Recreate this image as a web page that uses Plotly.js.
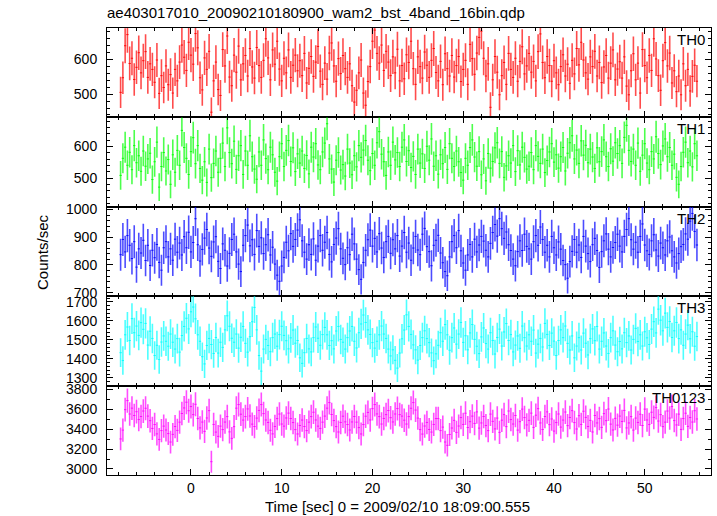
<!DOCTYPE html>
<html>
<head>
<meta charset="utf-8">
<script src="https://cdn.plot.ly/plotly-3.0.1.min.js"></script>
<style>html,body{margin:0;padding:0;background:#fff;}#chart{width:717px;height:516px;}</style>
</head>
<body>
<div id="chart"></div>
<script>
// Time grid: bin centres (sec), 0.25 s bins
const timeStart = -7.75;
const binWidth = 0.25;

const panelNames = ["TH0", "TH1", "TH2", "TH3", "TH0123"];

const th0 = [
505,547,639,671,588,603,542,577,619,561,596,622,548,587,571,534,598,502,553,519,
581,527,556,503,571,538,592,641,606,568,649,612,586,674,633,547,512,604,571,623,
448,538,592,513,496,628,581,667,549,524,612,563,638,541,587,611,552,631,578,546,
634,582,548,597,659,604,541,627,586,652,572,538,603,561,627,548,583,612,567,596,
553,617,532,574,608,551,592,637,566,528,589,543,618,647,581,537,602,559,611,573,
548,587,524,477,511,561,598,503,468,536,579,652,684,617,589,641,568,623,592,553,
607,561,629,538,582,544,613,591,652,573,528,607,579,546,621,583,548,597,631,562,
538,594,527,616,573,552,611,549,582,608,536,571,597,528,643,602,557,618,663,681,
603,552,587,462,541,608,563,498,553,591,528,617,571,548,603,537,594,636,558,581,
617,563,594,538,622,673,591,547,608,582,537,596,561,527,579,613,552,586,531,597,
558,631,584,649,598,561,543,607,579,623,552,591,533,578,611,546,589,627,541,572,
593,546,607,523,498,567,616,541,589,503,628,582,547,611,568,659,601,553,511,596,
648,581,618,532,567,507,552,498,587,524,571,509,551,583,537];

const th1 = [
509,563,598,541,582,527,603,549,571,522,586,538,561,579,496,552,614,472,537,581,
523,559,481,574,519,588,541,651,597,563,512,584,628,546,603,531,494,552,487,592,
502,547,586,519,563,611,537,659,581,546,617,528,571,603,512,586,541,634,568,529,
497,583,541,621,562,527,598,574,519,491,568,609,537,588,619,553,596,521,577,548,
586,531,572,514,598,567,609,542,527,583,611,672,561,529,488,557,581,526,543,507,
592,548,511,571,536,603,566,589,619,557,524,578,541,612,647,576,552,509,583,541,
614,558,581,537,598,621,553,587,534,569,512,592,548,577,531,601,557,624,538,571,
513,574,546,597,528,609,563,537,586,552,518,494,563,541,597,621,567,538,584,511,
561,492,578,532,553,596,612,547,584,503,539,571,548,603,521,587,542,598,566,529,
538,581,527,603,569,547,592,518,556,583,609,551,574,532,568,597,523,579,612,634,
561,589,547,618,573,604,549,592,567,531,596,552,584,621,568,537,593,554,612,578,
603,547,629,667,588,553,592,541,611,522,573,609,548,527,584,561,631,578,543,602,
624,568,597,541,576,503,481,537,582,614,549,586,536,609,571];

const th2 = [
837,892,847,906,871,823,884,792,858,843,889,816,871,798,853,826,874,809,781,862,
884,829,858,817,893,846,879,836,902,862,918,847,881,967,873,814,856,897,928,861,
831,883,902,813,787,876,853,796,842,892,911,847,803,776,871,906,944,869,891,838,
924,867,898,841,873,909,836,864,803,763,741,796,827,882,851,913,867,892,926,963,
887,846,821,873,838,894,817,868,906,853,882,917,838,811,874,897,931,858,824,801,
862,837,911,876,821,783,748,809,853,891,926,868,896,847,913,861,827,884,903,842,
891,858,906,832,868,917,846,879,817,861,903,854,837,911,932,866,848,797,871,889,
907,843,808,776,761,829,884,906,862,924,851,807,781,836,874,829,893,847,872,903,
886,853,829,878,917,946,904,967,931,896,919,873,852,821,797,848,887,852,911,867,
858,821,884,906,871,937,892,846,871,829,903,862,836,883,857,816,801,752,812,849,
892,846,872,827,903,868,841,812,873,896,852,791,848,887,912,857,829,863,881,911,
868,847,903,928,967,891,857,882,846,903,948,872,851,838,887,909,854,832,879,862,
836,887,901,851,829,807,841,866,874,912,893,958,986,921,872];

const th3 = [
1433,1392,1527,1568,1497,1612,1538,1573,1524,1591,1556,1587,1473,1546,1508,1418,1472,1397,1489,1521,
1493,1467,1531,1488,1452,1507,1436,1523,1571,1614,1558,1648,1673,1611,1527,1493,1412,1374,1471,1508,
1476,1429,1513,1431,1488,1461,1553,1627,1572,1509,1488,1531,1457,1514,1571,1482,1436,1517,1596,1671,
1553,1418,1336,1452,1503,1471,1438,1512,1531,1467,1528,1572,1524,1496,1453,1511,1552,1483,1497,1406,
1377,1433,1508,1453,1437,1512,1568,1509,1472,1528,1566,1527,1471,1496,1453,1547,1571,1503,1488,1452,
1512,1547,1571,1493,1458,1538,1584,1631,1592,1553,1529,1486,1457,1493,1527,1573,1531,1508,1452,1416,
1448,1393,1352,1431,1506,1552,1632,1571,1529,1474,1448,1394,1471,1512,1548,1507,1486,1432,1391,1427,
1472,1538,1493,1581,1527,1446,1512,1563,1478,1531,1592,1487,1522,1448,1537,1581,1503,1467,1428,1516,
1563,1481,1452,1538,1497,1426,1513,1557,1468,1542,1586,1497,1528,1437,1473,1521,1456,1573,1512,1468,
1527,1493,1552,1431,1478,1508,1463,1587,1529,1471,1536,1494,1418,1497,1553,1512,1573,1482,1447,1521,
1406,1468,1512,1447,1536,1483,1421,1507,1558,1496,1571,1452,1493,1537,1468,1429,1512,1548,1473,1438,
1492,1453,1538,1486,1521,1447,1503,1561,1492,1527,1468,1543,1511,1476,1557,1596,1537,1662,1604,1548,
1641,1566,1597,1513,1548,1592,1507,1553,1472,1531,1578,1506,1543,1467,1518];

const th0123 = [
3302,3391,3597,3688,3553,3612,3538,3576,3497,3528,3583,3611,3532,3486,3408,3447,3353,3297,3386,3431,
3392,3356,3271,3348,3427,3388,3471,3558,3614,3672,3586,3628,3547,3651,3508,3413,3472,3378,3513,3587,
3073,3448,3371,3328,3431,3396,3472,3527,3373,3308,3426,3612,3648,3551,3492,3527,3604,3533,3451,3427,
3512,3589,3648,3557,3493,3468,3389,3353,3428,3507,3553,3452,3431,3513,3562,3508,3467,3396,3352,3437,
3492,3427,3386,3471,3527,3571,3493,3431,3408,3471,3532,3612,3668,3548,3487,3426,3372,3468,3531,3474,
3447,3392,3473,3528,3471,3416,3352,3447,3531,3569,3493,3607,3648,3554,3527,3452,3508,3547,3588,3516,
3473,3553,3608,3547,3532,3491,3452,3527,3611,3668,3593,3512,3396,3351,3432,3468,3397,3371,3448,3507,
3507,3386,3421,3271,3238,3347,3412,3489,3368,3432,3517,3448,3561,3417,3476,3532,3458,3574,3411,3463,
3528,3437,3386,3552,3479,3403,3512,3368,3491,3547,3426,3583,3497,3452,3538,3391,3476,3602,3517,3443,
3489,3562,3418,3541,3607,3463,3397,3528,3574,3446,3503,3381,3467,3553,3421,3492,3573,3436,3518,3587,
3467,3402,3536,3448,3581,3519,3427,3489,3372,3538,3463,3507,3418,3557,3486,3603,3451,3392,3509,3441,
3532,3478,3589,3413,3463,3527,3391,3512,3468,3551,3437,3602,3493,3448,3571,3519,3618,3482,3547,3426,
3471,3583,3512,3628,3487,3443,3552,3398,3507,3561,3429,3518,3472,3586,3503];

const series = [th0, th1, th2, th3, th0123];
const colors = [[255, 0, 0], [0, 255, 0], [0, 0, 255], [0, 255, 255], [255, 0, 255]];
const yRanges = [[433, 690], [410, 692], [687, 1010], [1260, 1730], [2939, 3839]];
const yMajor = [100, 100, 100, 100, 200];
const yMinor = [20, 20, 20, 20, 100];

const times = th0.map((_, i) => timeStart + i * binWidth);

const FONT = '"Liberation Sans", Arial, Helvetica, sans-serif';
const rgb = (c, a) => `rgba(${c[0]},${c[1]},${c[2]},${a})`;

const traces = series.map((vals, k) => ({
  x: times,
  y: vals,
  type: 'scatter',
  mode: 'markers',
  marker: {size: 0.1, color: rgb(colors[k], 1), opacity: 0},
  error_x: {type: 'constant', value: binWidth / 2, width: 0, thickness: 1, color: rgb(colors[k], 0.9)},
  error_y: {type: 'data', array: vals.map(v => Math.sqrt(v / binWidth)), width: 0, thickness: 1.6, color: rgb(colors[k], 0.7)},
  xaxis: k === 0 ? 'x' : 'x' + (k + 1),
  yaxis: k === 0 ? 'y' : 'y' + (k + 1),
  hoverinfo: 'skip',
  showlegend: false
}));

const layout = {
  width: 717, height: 516,
  margin: {l: 107, r: 6, t: 28, b: 41, pad: 0},
  paper_bgcolor: '#fff', plot_bgcolor: '#fff',
  font: {family: FONT, size: 14, color: '#000'},
  showlegend: false,
  title: {text: 'ae403017010_20090210180900_wam2_bst_4band_16bin.qdp', x: 107 / 717, xanchor: 'left', xref: 'container',
          y: 1 - 13 / 516, yanchor: 'middle', yref: 'container', font: {family: FONT, size: 15, color: '#000'}},
  annotations: []
};

const n = series.length;
for (let k = 0; k < n; k++) {
  const xa = k === 0 ? 'xaxis' : 'xaxis' + (k + 1);
  const ya = k === 0 ? 'yaxis' : 'yaxis' + (k + 1);
  const yid = k === 0 ? 'y' : 'y' + (k + 1);
  const xid = k === 0 ? 'x' : 'x' + (k + 1);
  const top = 1 - k / n, bot = 1 - (k + 1) / n;
  layout[xa] = {
    domain: [0, 1], anchor: yid, range: [-9.25, 57.3],
    showticklabels: k === n - 1, ticks: 'inside', ticklen: 6, tickwidth: 1, tickcolor: '#000',
    tick0: 0, dtick: 10, minor: {dtick: 2, ticklen: 3, ticks: 'inside', tickcolor: '#000', tickwidth: 1},
    mirror: 'allticks', showline: true, linecolor: '#000', linewidth: 1,
    showgrid: false, zeroline: false, tickfont: {family: FONT, size: 14, color: '#000'}
  };
  if (k > 0) layout[xa].matches = 'x';
  layout[ya] = {
    domain: [bot, top], anchor: xid, range: yRanges[k],
    ticks: 'inside', ticklen: 6, tickwidth: 1, tickcolor: '#000',
    tick0: 0, dtick: yMajor[k], minor: {dtick: yMinor[k], ticklen: 3, ticks: 'inside', tickcolor: '#000', tickwidth: 1},
    mirror: 'allticks', showline: true, linecolor: '#000', linewidth: 1,
    showgrid: false, zeroline: false, ticklabelstandoff: 6,
    tickfont: {family: FONT, size: 14, color: '#000'}
  };
  layout.annotations.push({
    text: panelNames[k], xref: 'paper', yref: 'paper', x: 1, y: top, xanchor: 'right', yanchor: 'top',
    xshift: -4, yshift: -1, showarrow: false, font: {family: FONT, size: 15, color: '#000'}
  });
}

layout.annotations.push({
  text: 'Time [sec] 0 = 2009/02/10 18:09:00.555', xref: 'paper', yref: 'paper',
  x: (397 - 107) / 604, y: -(506 - 475) / 447, xanchor: 'center', yanchor: 'middle', showarrow: false,
  font: {family: FONT, size: 15, color: '#000'}
});
layout.annotations.push({
  text: 'Counts/sec', xref: 'paper', yref: 'paper', textangle: -90,
  x: (42 - 107) / 604, y: (475 - 252) / 447, xanchor: 'center', yanchor: 'middle', showarrow: false,
  font: {family: FONT, size: 15, color: '#000'}
});

Plotly.newPlot('chart', traces, layout, {staticPlot: true, displayModeBar: false});
</script>
</body>
</html>
